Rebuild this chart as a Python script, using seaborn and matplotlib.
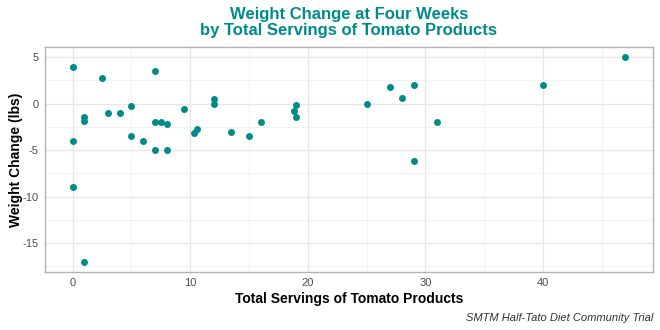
import matplotlib
matplotlib.use("Agg")
import matplotlib.pyplot as plt
import seaborn as sns
import pandas as pd
import numpy as np

servings = [0, 0, 0, 1, 1, 1, 2.5, 3, 4, 5, 5, 6, 7, 7, 7, 7.5, 8, 8,
            9.5, 10.3, 10.6, 12, 12, 13.5, 15, 16, 18.8, 19, 19,
            25, 27, 28, 29, 29, 31, 40, 47]
weight_change = [4, -4, -9, -1.4, -1.9, -17, 2.8, -1, -1, -0.2, -3.5, -4, 3.5, -2, -5, -2, -2.2, -5,
                 -0.6, -3.1, -2.7, 0.5, 0, -3, -3.5, -2, -0.8, -0.1, -1.4,
                 0, 1.8, 0.6, 2, -6.2, -2, 2, 5]

x_ticks = [0, 10, 20, 30, 40]
y_ticks = [-15, -10, -5, 0, 5]

df = pd.DataFrame({"servings": servings, "weight": weight_change})

sns.set_style("white")
plt.rcParams['font.family'] = ['Liberation Sans', 'DejaVu Sans']

fig = plt.figure(figsize=(6.6, 3.3), dpi=100)
ax = fig.add_axes([45/660, 1-272/330, (653-45)/660, (272-47)/330])

teal = "#008B8B"
sns.scatterplot(data=df, x="servings", y="weight", ax=ax, color=teal,
                s=25, linewidth=0, zorder=3, legend=False)

ax.set_xlim(-2.35, 49.35)
ax.set_ylim(-18.1, 6.1)
ax.set_xticks(x_ticks)
ax.set_yticks(y_ticks)
ax.set_xticks([5, 15, 25, 35, 45], minor=True)
ax.set_yticks([-17.5, -12.5, -7.5, -2.5, 2.5], minor=True)
ax.set_yticklabels([str(v) for v in y_ticks])
ax.grid(True, which="major", color="#e6e6e6", linewidth=0.9)
ax.grid(True, which="minor", color="#f0f0f0", linewidth=0.6)
ax.set_axisbelow(True)

for sp in ax.spines.values():
    sp.set_color("#b3b3b3")
    sp.set_linewidth(1.0)

ax.tick_params(axis="both", which="major", colors="#b3b3b3", labelcolor="#4d4d4d",
               labelsize=8, length=3, width=0.8, pad=1.5)
ax.tick_params(axis="both", which="minor", length=0)

ax.set_xlabel("Total Servings of Tomato Products", fontsize=10, fontweight="bold",
              color="black", labelpad=3)
ax.set_ylabel("Weight Change (lbs)", fontsize=10, fontweight="bold",
              color="black", labelpad=0)

fig.text(349/660, 1-19/330, "Weight Change at Four Weeks",
         ha="center", va="baseline", fontsize=12, fontweight="bold", color=teal)
fig.text(349/660, 1-35/330, "by Total Servings of Tomato Products",
         ha="center", va="baseline", fontsize=12, fontweight="bold", color=teal)
fig.text(653/660, 1-318/330, "SMTM Half-Tato Diet Community Trial",
         ha="right", va="center", fontsize=8, style="italic", color="#333333")

fig.savefig("out.png", dpi=100)
